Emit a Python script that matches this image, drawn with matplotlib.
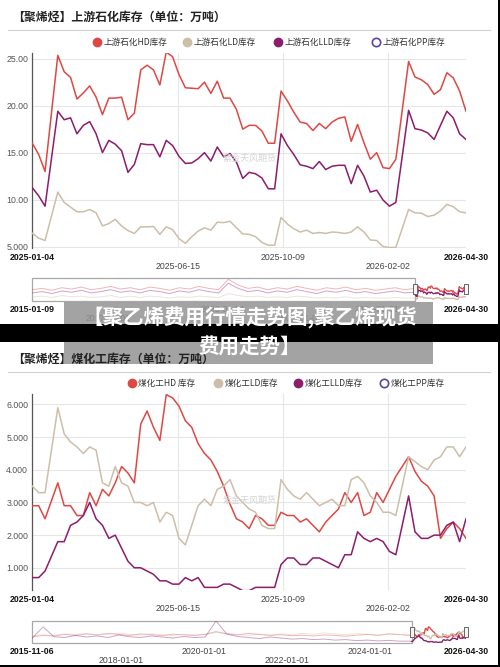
import matplotlib
matplotlib.use('Agg')
import matplotlib.pyplot as plt
import matplotlib.transforms as mtransforms
from matplotlib.lines import Line2D
from matplotlib.patches import Rectangle
import numpy as np
import pandas as pd

plt.rcParams['font.family'] = ['Liberation Sans', 'Noto Sans CJK SC', 'DejaVu Sans']

# ---------------- data ----------------
week_dates = pd.date_range('2025-01-04', '2026-04-30', periods=69)

# upstream petrochemical inventory (10k t)
up_hd = [16.0, 14.8, 13.0, None, 25.35, 23.6, 23.0, 20.7, 21.35, 22.1,
         20.9, 19.05, 20.8, 20.8, 20.9, 18.5, 19.2, 23.8, 24.3, 23.8,
         22.2, 25.7, 25.2, 23.3, 21.9, 21.85, 21.8, 22.5, 21.3, 22.6,
         20.8, 20.8, 19.6, 17.5, 17.9, 17.9, 17.3, 16.0, 16.0, 21.55,
         20.5, 19.3, 18.25, 18.1, 17.35, 18.1, 17.55, 18.25, 18.65, 18.8,
         16.2, 18.0, 16.05, 14.3, 15.0, 13.4, 13.3, 14.3, None, 24.7,
         23.05, 22.75, 22.25, 21.2, 21.7, 23.5, 22.95, 21.55, 19.4]
up_ld = [6.42, 5.9, 5.65, None, 10.8, 9.7, 9.2, 8.7, 8.7, 8.95,
         8.6, 7.2, 7.45, 7.9, 7.2, 6.7, 6.4, 7.1, 7.1, 7.15,
         6.3, 7.1, 6.8, 5.85, 5.35, 6.05, 6.65, 7.0, 6.75, 7.6,
         7.55, 7.7, 7.0, 6.35, 6.3, 6.05, 5.45, 5.15, 5.15, 8.1,
         7.4, 6.9, 6.55, 6.75, 6.4, 6.5, 6.4, 6.55, 6.5, 6.4,
         6.55, 7.1, 6.55, 5.7, 5.65, 5.0, 4.9, 4.9, None, 8.95,
         8.6, 8.55, 8.2, 8.35, 8.8, 9.5, 9.25, 8.7, 8.6]
up_lld = [11.27, 10.4, 9.3, None, 19.4, 18.5, 18.7, 17.0, 17.9, 18.3,
          17.0, 15.0, 16.3, 15.9, 15.2, 12.9, 13.75, 15.95, 15.85, 15.85,
          14.55, 16.3, 15.75, 14.6, 13.85, 13.9, 14.35, 15.0, 14.1, 15.6,
          14.55, 14.9, 14.0, 12.25, 12.9, 12.75, 12.3, 11.15, 11.15, 17.0,
          15.75, 14.8, 13.7, 13.55, 13.3, 14.05, 13.2, 13.55, 13.65, 13.65,
          11.7, 13.65, 12.5, 10.8, 11.0, 9.95, 9.3, 9.7, None, 19.5,
          17.55, 17.4, 17.1, 16.4, 17.9, 19.4, 18.7, 17.0, 16.4]

# coal-to-olefin inventory (10k t)
coal_hd = [2.9, 2.9, 2.5, None, 3.6, 2.9, 2.9, 2.6, 2.6, 3.3,
           2.9, 3.4, 3.2, 3.6, 4.1, 3.9, 3.6, 5.4, 5.8, 5.3,
           4.9, 6.3, 6.2, 5.95, 5.5, 5.3, 4.8, 4.5, 4.3, 3.95,
           3.5, 2.95, 2.5, 2.4, 2.2, 2.6, 2.5, 2.3, 2.3, 2.7,
           2.6, 2.6, 2.4, 2.5, 2.3, 2.1, 2.4, 2.6, 2.8, 3.3,
           3.0, 3.3, 2.6, 2.7, 3.3, 3.0, 3.4, 3.8, None, 4.4,
           3.95, 3.65, 3.5, 3.2, 1.9, 2.2, 2.4, 2.2, 1.9]
coal_ld = [3.5, 3.3, 3.3, None, 5.9, 5.1, 4.85, 4.7, 4.5, 4.7,
           4.6, 3.6, 3.5, 4.1, 3.6, 3.5, 3.0, 3.0, 2.9, 3.0,
           2.4, 2.7, 2.6, 1.9, 1.7, 2.3, 2.9, 3.1, 2.9, 3.4,
           3.5, 3.7, 3.2, 3.0, 2.8, 2.7, 2.3, 2.2, 2.2, 3.7,
           3.4, 3.2, 3.1, 3.3, 3.1, 2.9, 3.0, 3.1, 2.9, 2.9,
           3.7, 3.8, 3.6, 3.2, 3.0, 2.7, 2.7, 2.6, None, 4.4,
           4.25, 4.1, 4.0, 4.3, 4.4, 4.7, 4.7, 4.4, 4.7]
coal_lld = [0.7, 0.7, 0.9, None, 1.8, 1.8, 2.3, 2.4, 2.6, 3.0,
            2.5, 2.3, 1.9, 2.0, 1.6, 1.2, 1.0, 1.0, 0.9, 0.8,
            0.6, 0.6, 0.5, 0.5, 0.7, 0.6, 0.7, 0.4, 0.4, 0.4,
            0.5, 0.5, 0.4, 0.3, 0.3, 0.4, 0.4, 0.4, 0.4, 1.1,
            1.3, 1.3, 1.1, 1.1, 1.3, 1.3, 1.2, 1.1, 1.0, 1.4,
            1.4, 2.1, 1.9, 1.8, 1.9, 1.8, 1.5, 1.4, None, 3.2,
            2.1, 1.9, 1.9, 2.0, 2.0, 2.3, 2.4, 1.8, 2.5]

# long history shown in the navigators (rough reading)
up_hist_dates = pd.date_range('2015-01-09', '2024-12-27', periods=40)
up_hist_hd = [20, 22, 19, 23, 21, 24, 20, 22, 25, 21, 23, 20, 24, 22, 19, 23, 21, 25, 22, 20,
              36, 27, 22, 24, 20, 23, 21, 25, 22, 19, 23, 21, 24, 20, 22, 19, 21, 23, 20, 22]
up_hist_lld = [15, 17, 14, 18, 16, 19, 15, 17, 20, 16, 18, 15, 19, 17, 14, 18, 16, 20, 17, 15,
               30, 22, 17, 19, 15, 18, 16, 20, 17, 14, 18, 16, 19, 15, 17, 14, 16, 18, 15, 16]
up_hist_ld = [9, 10, 8, 11, 9, 10, 8, 9, 11, 8, 10, 8, 10, 9, 7, 9, 8, 10, 9, 8,
              14, 11, 9, 10, 8, 9, 8, 10, 9, 7, 8, 7, 9, 7, 8, 7, 7, 8, 7, 7]

coal_hist_dates = pd.date_range('2015-11-06', '2024-12-27', periods=36)
coal_hist_hd = [2.5, 3.0, 2.8, 3.4, 3.0, 3.6, 3.2, 3.8, 3.4, 3.0, 3.6, 3.3, 2.9, 3.5, 3.2, 3.0, 3.4, 4.5,
                3.6, 3.2, 3.8, 3.4, 3.0, 3.3, 2.9, 3.1, 2.8, 3.2, 3.0, 2.7, 3.1, 3.4, 3.0, 3.6, 3.3, 3.0]
coal_hist_lld = [2.0, 6.3, 2.5, 2.2, 3.0, 2.4, 2.8, 2.2, 3.2, 2.5, 2.2, 2.8, 2.4, 2.0, 2.6, 2.2, 2.4, 8.6,
                 3.5, 2.6, 2.2, 1.8, 2.4, 2.0, 1.6, 1.8, 1.4, 1.6, 1.2, 1.4, 1.0, 1.2, 0.9, 1.1, 0.8, 0.8]
coal_hist_ld = [2.8, 3.2, 3.0, 3.6, 3.4, 3.8, 3.2, 3.5, 3.9, 3.4, 3.1, 3.6, 3.3, 3.0, 3.5, 3.2, 3.4, 4.2,
                3.8, 3.4, 3.0, 3.5, 3.2, 3.6, 3.3, 3.8, 3.5, 4.0, 3.6, 3.3, 3.7, 3.5, 3.2, 3.6, 3.4, 3.5]

up_names = ['上游石化HD库存', '上游石化LD库存', '上游石化LLD库存', '上游石化PP库存']
coal_names = ['煤化工HD 库存', '煤化工LD库存', '煤化工LLD库存', '煤化工PP库存']

up_yticks = [5, 10, 15, 20, 25]
up_ylabels = ['5.000', '10.00', '15.00', '20.00', '25.00']
coal_yticks = [1, 2, 3, 4, 5, 6]
coal_ylabels = ['1.000', '2.000', '3.000', '4.000', '5.000', '6.000']

main_ticks = ['2025-01-04', '2025-06-15', '2025-10-09', '2026-02-02', '2026-04-30']
up_nav_ticks = ['2015-01-09', '2017-01-01', '2020-01-01', '2022-01-01', '2024-01-01', '2026-04-30']
coal_nav_ticks = ['2015-11-06', '2018-01-01', '2020-01-01', '2022-01-01', '2024-01-01', '2026-04-30']

HD_C = '#de4844'
LD_C = '#cdbea9'
LLD_C = '#8c1c6c'
PP_C = '#5a45a6'
colors = [HD_C, LD_C, LLD_C]

W, H = 500, 667


def fx(x):
    return x / W


def fy(y):
    return 1 - y / H


fig = plt.figure(figsize=(5, 6.67), dpi=100)


def tick_label(ax, d, row, bold):
    off = -6.5 if row == 0 else -13
    ax.annotate(d, xy=(pd.Timestamp(d), 0), xycoords=('data', 'axes fraction'),
                xytext=(0, off), textcoords='offset points', ha='center', va='center',
                fontsize=6.3, color='#111' if bold else '#444',
                fontweight='bold' if bold else 'normal', annotation_clip=False)


def main_panel(top, bottom, series, ylim, yticks, ylabels, title, names, title_y, legend_y, legend_x):
    ax = fig.add_axes([fx(32.3), fy(bottom), (466 - 32.3) / W, (bottom - top) / H])
    for vals, c in zip(series, colors):
        s = pd.Series(vals, index=week_dates, dtype=float).dropna()
        ax.plot(s.index, s.values, color=c, lw=1.1, zorder=3)
    ax.set_xlim(pd.Timestamp('2025-01-04'), pd.Timestamp('2026-04-30'))
    ax.set_ylim(*ylim)
    ax.set_yticks(yticks)
    ax.set_yticklabels(ylabels, fontsize=6.3, color='#555')
    ax.tick_params(axis='y', length=0, pad=3)
    ax.set_xticks([])
    for sp in ['top', 'right', 'bottom']:
        ax.spines[sp].set_visible(False)
    ax.spines['left'].set_color('#555')
    ax.spines['left'].set_linewidth(0.9)
    for y in yticks:
        ax.axhline(y, color='#e6e6e6', lw=0.8, zorder=1)
    for d in main_ticks[1:4]:
        ax.axvline(pd.Timestamp(d), color='#e6e6e6', lw=0.8, zorder=1)
    for i, d in enumerate(main_ticks):
        tick_label(ax, d, i % 2, i in (0, 4))
    ax.text(0.502, 0.46, '紫金天风期货', transform=ax.transAxes, ha='center', va='center',
            fontsize=6.5, color='#d4d4d4', family=['Noto Sans CJK SC'])

    fig.text(fx(12), fy(title_y), title, fontsize=8.6, fontweight='bold', color='#222',
             family=['Noto Sans CJK SC'], va='center', zorder=8)
    fig.add_artist(Line2D([fx(8), fx(490)], [fy(title_y + 13)] * 2, color='#d2d2d2', lw=0.8))
    for i, (nm, lx) in enumerate(zip(names, legend_x)):
        if i < 3:
            mk = dict(mfc=colors[i], mec=colors[i])
        else:
            mk = dict(mfc='white', mec=PP_C, mew=1.2)
        fig.add_artist(Line2D([fx(lx)], [fy(legend_y)], marker='o', ms=6, ls='none', **mk))
        fig.text(fx(lx + 6.5), fy(legend_y), nm, fontsize=6.2, color='#333', va='center',
                 family=['Noto Sans CJK SC'])
    return ax


def nav_panel(top, bottom, hist_dates, hist, main, ylim, ticks):
    ax = fig.add_axes([fx(32.3), fy(bottom), (466 - 32.3) / W, (bottom - top) / H])
    for h, m, c in zip(hist, main, colors):
        s = pd.concat([pd.Series(h, index=hist_dates, dtype=float),
                       pd.Series(m, index=week_dates, dtype=float)]).dropna()
        ax.plot(s.index, s.values, color=c, lw=0.7, alpha=0.4)
        sm = pd.Series(m, index=week_dates, dtype=float).dropna()
        ax.plot(sm.index, sm.values, color=c, lw=0.9)
    start = pd.Timestamp(ticks[0])
    sel0 = pd.Timestamp('2025-01-04')
    sel1 = pd.Timestamp('2026-04-30')
    ax.set_xlim(start, sel1)
    ax.set_ylim(*ylim)
    ax.set_xticks([])
    ax.set_yticks([])
    for sp in ax.spines.values():
        sp.set_visible(False)
    ax.axvspan(start, sel0, fill=False, edgecolor='#a8a8a8', lw=0.9, clip_on=False)
    trans = mtransforms.blended_transform_factory(ax.transData, ax.transAxes)
    handle = [(-2, -4.5), (2, -4.5), (2, 4.5), (-2, 4.5), (-2, -4.5)]
    for d in (sel0, sel1):
        ax.plot([d], [0.5], transform=trans, marker=handle, ms=7, mfc='#f4f4f4',
                mec='#666', mew=0.7, clip_on=False, zorder=5)
    for i, d in enumerate(ticks):
        row = 1 if d in ('2017-01-01', '2018-01-01', '2022-01-01') else 0
        tick_label(ax, d, row, i in (0, len(ticks) - 1))
    return ax


main_panel(53, 248, [up_hd, up_ld, up_lld], (4.85, 25.6), up_yticks, up_ylabels,
           '【聚烯烃】上游石化库存（单位：万吨）', up_names, 17, 42, [97, 187, 278, 376])
nav_panel(278, 300.7, up_hist_dates, [up_hist_hd, up_hist_ld, up_hist_lld],
          [up_hd, up_ld, up_lld], (3, 38), up_nav_ticks)

main_panel(394, 590, [coal_hd, coal_ld, coal_lld], (0.32, 6.32), coal_yticks, coal_ylabels,
           '【聚烯烃】煤化工库存（单位：万吨）', coal_names, 359, 383, [132, 218, 298, 384])
nav_panel(620.7, 642.7, coal_hist_dates, [coal_hist_hd, coal_hist_ld, coal_hist_lld],
          [coal_hd, coal_ld, coal_lld], (0.2, 8.7), coal_nav_ticks)

# banner over the middle
fig.add_artist(Rectangle((fx(64), fy(364)), (433 - 64) / W, (364 - 302) / H,
                         transform=fig.transFigure, color='#939393', alpha=0.85, lw=0, zorder=5))
fig.add_artist(Rectangle((0, fy(342)), 1, 18 / H, transform=fig.transFigure,
                         color='black', lw=0, zorder=6))
fig.text(0.5, fy(318), '【聚乙烯费用行情走势图,聚乙烯现货', ha='center', va='center',
         fontsize=14.8, fontweight='bold', color='white', family=['Noto Sans CJK SC'], zorder=9)
fig.text(0.5, fy(347), '费用走势】', ha='center', va='center',
         fontsize=14.8, fontweight='bold', color='white', family=['Noto Sans CJK SC'], zorder=9)

# dark frame on right/bottom edge
fig.add_artist(Rectangle((fx(497.5), 0), 2.5 / W, 1, transform=fig.transFigure,
                         color='black', lw=0, zorder=10))
fig.add_artist(Rectangle((0, 0), 1, 2 / H, transform=fig.transFigure,
                         color='black', lw=0, zorder=10))

fig.savefig('out.png', dpi=100)
